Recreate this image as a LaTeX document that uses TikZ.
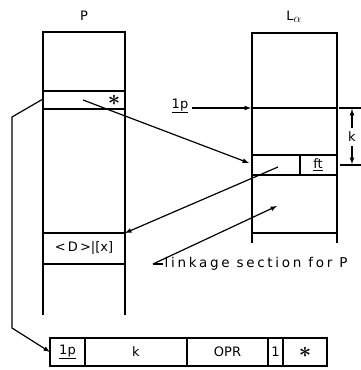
\documentclass[tikz,border=0pt]{standalone}
\usepackage{amsmath}
\usepackage{amssymb}
\usepackage{fontspec}
\newfontfamily\scritta{DejaVu Sans}
\newfontfamily\scrittalarga[LetterSpace=20]{DejaVu Sans}
\begin{document}
\begin{tikzpicture}[x=1pt,y=-1pt,line width=1.2pt,font=\scritta\fontsize{13}{15}\selectfont]
                        \useasboundingbox (0,0) rectangle (361,370); % margini della figura
                        \node (P) at (84,16) {P}; % nome del blocco P
                        \node (La) at (294,17) {L$_{\textstyle\alpha}$}; % nome del blocco L alpha
                        \draw (43,315) -- (43,32) -- (125,32) -- (125,315); % colonna P
                        \draw (43,91) -- (125,91); % riga con asterisco
                        \draw (43,109) -- (125,109);
                        \node (stellaP) at (114,100) [scale=1.8] {$\boldsymbol{\ast}$}; % asterisco nella riga
                        \node[draw,outer sep=0pt,minimum width=82pt,minimum height=31pt,inner sep=1pt] (riga) at (84,248.5) {<\,D\,>|[x]}; % riga di P
                        \draw (252,243) -- (252,33) -- (337,33) -- (337,243); % colonna L alpha
                        \draw (252,108) -- (337,108);
                        \draw (252,155) -- (337,155); % cella di collegamento
                        \draw (252,175) -- (337,175);
                        \draw (300,155) -- (300,175);
                        \draw (252,233) -- (337,233);
                        \node (ft) at (318,165) {\underline{ft}};
                        \node (unoP) at (180,106) {\underline{1p}}; % inizio della sezione
                        \coordinate (lriga) at (251,108);
                        \draw[-latex] (unoP.east |- lriga) -- (lriga);
                        \draw (339,108) -- (361,108); % quota k
                        \draw (340,165) -- (361,165);
                        \node (kquota) at (352,137) {k};
                        \draw[-latex] (kquota) -- (352,109);
                        \draw[-latex] (kquota) -- (352,164);
                        \coordinate (pstella) at (83,100); % freccia da P verso L alpha
                        \coordinate (lcella) at (249,163);
                        \draw[-latex] (pstella) -- (lcella);
                        \coordinate (lritorno) at (278,167); % freccia di ritorno verso P
                        \draw[-latex] (lritorno) -- (riga.north east);
                        \node[anchor=west,inner sep=1pt,font=\scrittalarga\fontsize{13.5}{15}\selectfont] (link) at (163,264) {linkage section for P};
                        \coordinate (lk) at (153,264); % richiamo della sezione
                        \coordinate (lkfine) at (277,206);
                        \draw (lk) -- (link.west);
                        \draw[-latex] (lk) -- (lkfine);
                        \node[draw,outer sep=0pt,minimum width=35pt,minimum height=28pt] (c1) at (67.5,352) {\underline{1p}}; % parola di chiamata
                        \node[draw,outer sep=0pt,minimum width=102pt,minimum height=28pt] (c2) at (136,352) {k};
                        \node[draw,outer sep=0pt,minimum width=81pt,minimum height=28pt] (c3) at (227.5,352) {OPR};
                        \node[draw,outer sep=0pt,minimum width=15pt,minimum height=28pt,inner sep=0pt] (c4) at (275.5,352) {1};
                        \node[draw,outer sep=0pt,minimum width=44pt,minimum height=28pt] (c5) at (305,352) {};
                        \node (stellaC) at (c5) [scale=1.8] {$\boldsymbol{\ast}$};
                        \coordinate (pfianco) at (43,99); % collegamento a sinistra
                        \draw[-latex] (pfianco) -- (12,117) -- (12,328) -- (c1.west);
                    \end{tikzpicture}
\end{document}
